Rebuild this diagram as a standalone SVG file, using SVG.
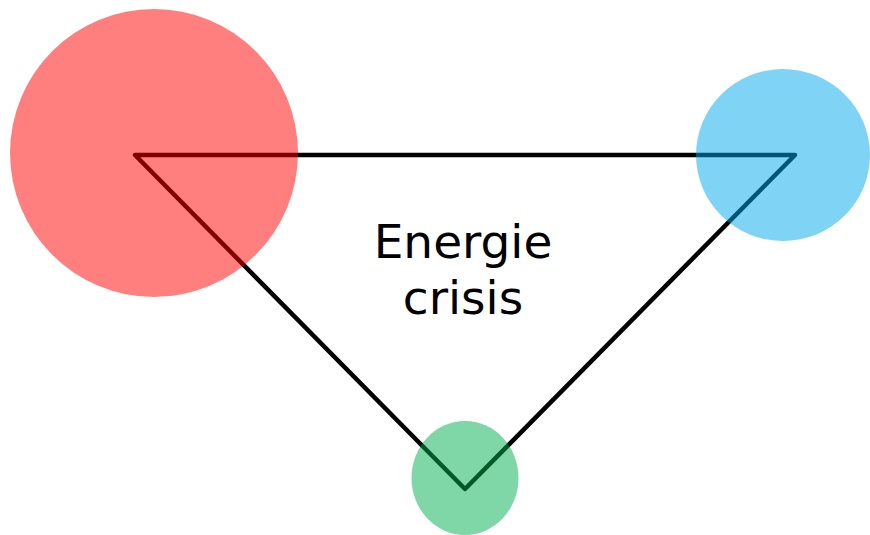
<svg xmlns="http://www.w3.org/2000/svg" width="870" height="535" viewBox="0 0 870 535">
<style>
.edge{fill:none;stroke:#000;stroke-width:4.5;stroke-linejoin:round;stroke-linecap:round}
.node{opacity:0.5}
.label{font-family:"DejaVu Sans",Verdana,sans-serif;font-size:47px;fill:#000;text-anchor:middle}
</style>
<rect width="870" height="535" fill="#fff"/>
<g id="connectors">
<path class="edge" d="M135,155 L795,155 L465,489 Z"/>
</g>
<g id="node-red"><circle class="node" cx="154" cy="153" r="144" fill="#ff0000"/></g>
<g id="node-blue"><ellipse class="node" cx="783" cy="155" rx="87" ry="86" fill="#00a9eb"/></g>
<g id="node-green"><ellipse class="node" cx="465" cy="478" rx="53.5" ry="57" fill="#00ad4d"/></g>
<g id="label"><text class="label" x="463" y="258">Energie</text><text class="label" x="463" y="314">crisis</text></g>
</svg>
